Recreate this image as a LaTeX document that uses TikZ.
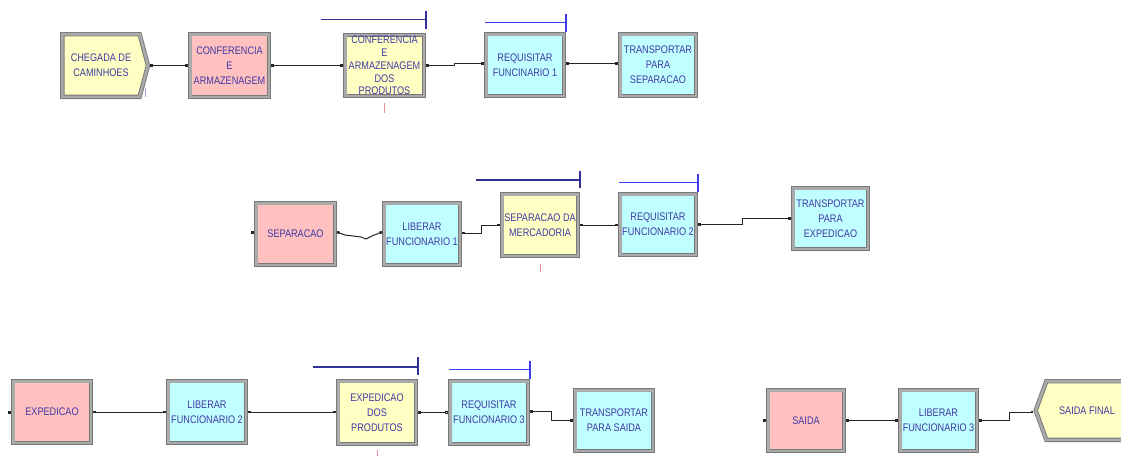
\documentclass[tikz,border=0pt]{standalone}
\usepackage{fontspec}
\setmainfont{Liberation Sans}[FakeStretch=0.83]
\usepackage{tikz}
\usetikzlibrary{arrows.meta,shapes.symbols}
\definecolor{txtblue}{RGB}{64,56,165}
\definecolor{rimgray}{RGB}{120,120,120}
\definecolor{bandgray}{RGB}{170,170,170}
\definecolor{pinkfill}{RGB}{255,192,192}
\definecolor{yellowfill}{RGB}{255,255,196}
\definecolor{cyanfill}{RGB}{192,255,255}
\definecolor{navybar}{RGB}{48,48,150}
\definecolor{bluebar}{RGB}{60,60,240}
\definecolor{markpink}{RGB}{235,140,150}
\definecolor{marklilac}{RGB}{160,160,225}
\tikzstyle{block}=[rectangle, draw=rimgray, double=bandgray, double distance=2.6pt, line width=0.9pt, minimum width=77.6pt, minimum height=61.6pt, inner sep=1pt, outer sep=2.2pt, align=center, text=txtblue, font=\fontsize{11}{15}\selectfont]
\tikzstyle{pinkB}=[block, fill=pinkfill]
\tikzstyle{yellowB}=[block, fill=yellowfill]
\tikzstyle{cyanB}=[block, fill=cyanfill]
\tikzstyle{edge}=[line width=1pt, black!85, {Square[length=2.6pt,width=2.6pt]}-{Square[length=2.6pt,width=2.6pt]}]
\tikzstyle{edgeO}=[line width=1pt, black!85, {Square[length=2.6pt,width=2.6pt]}-{Square[open,length=2.8pt,width=2.8pt]}]
\tikzstyle{resN}=[line width=1.2pt, navybar]
\tikzstyle{resB}=[line width=1.2pt, bluebar]
\tikzstyle{counterln}=[line width=1pt, markpink]

\begin{document}
\begin{tikzpicture}[x=1pt, y=-1pt]
        \useasboundingbox (0,0) rectangle (1121,455);
        % first line
        \node(chg) [block, shape=signal, signal to=east, signal pointer angle=150, fill=yellowfill, minimum width=85.6pt, minimum height=62.6pt] at (101, 65.5){CHEGADA DE\\CAMINHOES};
        \node(conf) [pinkB, minimum width=78.6pt, minimum height=62.6pt] at (229.5, 65.5){CONFERENCIA\\E\\ARMAZENAGEM};
        \node(cdp) [yellowB, minimum width=78.6pt, minimum height=60.6pt, font=\fontsize{11}{12.8}\selectfont] at (384.5, 65.5){CONFERENCIA\\E\\ARMAZENAGEM\\DOS\\PRODUTOS};
        \node(req1) [cyanB] at (525, 65){REQUISITAR\\FUNCINARIO 1};
        \node(trp1) [cyanB, minimum width=75.6pt] at (658, 65){TRANSPORTAR\\PARA\\SEPARACAO};
        % second line
        \node(sep) [pinkB, minimum width=78.6pt] at (295.5, 234){SEPARACAO};
        \node(lib1) [cyanB, minimum width=75.6pt] at (422, 234){LIBERAR\\FUNCIONARIO 1};
        \node(sepd) [yellowB, minimum width=75.6pt] at (540, 225){SEPARACAO DA\\MERCADORIA};
        \node(req2) [cyanB, minimum width=75.6pt, minimum height=60.6pt] at (658, 224.5){REQUISITAR\\FUNCIONARIO 2};
        \node(trp2) [cyanB, minimum width=74.6pt, minimum height=60.6pt] at (830.5, 218.5){TRANSPORTAR\\PARA\\EXPEDICAO};
        % third line
        \node(exp) [pinkB] at (52, 412){EXPEDICAO};
        \node(lib2) [cyanB] at (207, 412){LIBERAR\\FUNCIONARIO 2};
        \node(edp) [yellowB, minimum height=62.6pt] at (377, 412.5){EXPEDICAO\\DOS\\PRODUTOS};
        \node(req3) [cyanB, minimum height=62.6pt] at (489, 412.5){REQUISITAR\\FUNCIONARIO 3};
        \node(trp3) [cyanB, minimum height=60.6pt] at (614, 420.5){TRANSPORTAR\\PARA SAIDA};
        \node(sai) [pinkB, minimum width=75.6pt, minimum height=60.6pt] at (806, 420.5){SAIDA};
        \node(lib3) [cyanB, minimum width=76.6pt, minimum height=60.6pt] at (938.5, 420.5){LIBERAR\\FUNCIONARIO 3};
        \node(sfin) [block, shape=signal, signal to=west, signal pointer angle=140, fill=yellowfill, minimum width=92pt, minimum height=58.6pt] at (1087, 410.5){SAIDA FINAL};

        \draw[edge] (chg) to (conf);
        \draw[edge] (conf) to (cdp);
        \draw[edge] (cdp.east) -- ++(28,0) |- ([yshift=1.5pt]req1.west);
        \draw[edge] ([yshift=1.5pt]req1.east) -- ([yshift=1.5pt]trp1.west);
        \draw[edge] ([yshift=2pt]sep.east) -- (345,235) -- (361,237) -- (366,239) -- (372,236) -- ([yshift=2pt]lib1.west);
        \draw[edge] ([yshift=1pt]lib1.east) -- ++(19,0) |- (sepd.west);
        \draw[edgeO] (sepd.east) -- (sepd.east -| req2.west);
        \draw[edge] (req2.east) -- ++(44,0) |- (trp2.west);
        \draw[edge] (exp) to (lib2);
        \draw[edge] (lib2.east) -- (lib2.east -| edp.west);
        \draw[edgeO] (edp.east) -- (edp.east -| req3.west);
        \draw[edge] ([yshift=1pt]req3.east) -- ++(21,0) |- (trp3.west);
        \draw[edge] (sai) to (lib3);
        \draw[edge] (lib3.east) -- ++(30,0) |- ([yshift=-1.5pt]sfin.west);
        % loose entry points
        \foreach \n/\dy in {sep/2pt, exp/0pt, sai/0pt}
          \fill[black!85] ([xshift=-1.5pt,yshift=\dy]\n.west) +(-1.5pt,-1.5pt) rectangle +(1.5pt,1.5pt);

        % resource bars
        \draw[resN] ([xshift=-22pt,yshift=13pt]cdp.north west) -- ([yshift=13pt]cdp.north east) ++(0pt,9pt) -- ++(0pt,-18pt);
        \draw[resN] ([xshift=-24pt,yshift=12pt]sepd.north west) -- ([yshift=12pt]sepd.north east) ++(0pt,9pt) -- ++(0pt,-17pt);
        \draw[resN] ([xshift=-23pt,yshift=12pt]edp.north west) -- ([yshift=12pt]edp.north east) ++(0pt,10pt) -- ++(0pt,-18pt);
        \foreach \n in {req1, req2, req3}
          \draw[resB] ([xshift=1pt,yshift=9.5pt]\n.north west) -- ([yshift=9.5pt]\n.north east) ++(0pt,9pt) -- ++(0pt,-18pt);

        % small counters
        \draw[counterln] ([yshift=-5pt]cdp.south) -- ++(0pt,-10pt);
        \draw[counterln] ([yshift=-6pt]sepd.south) -- ++(0pt,-8pt);
        \draw[counterln] ([yshift=-4pt]edp.south) -- ++(0pt,-8pt);
        \draw[line width=1pt, marklilac] (145,88) -- (145,97);
        %\draw[counterln] (chg.south east) -- ++(0pt,-8pt);
\end{tikzpicture}
\end{document}
